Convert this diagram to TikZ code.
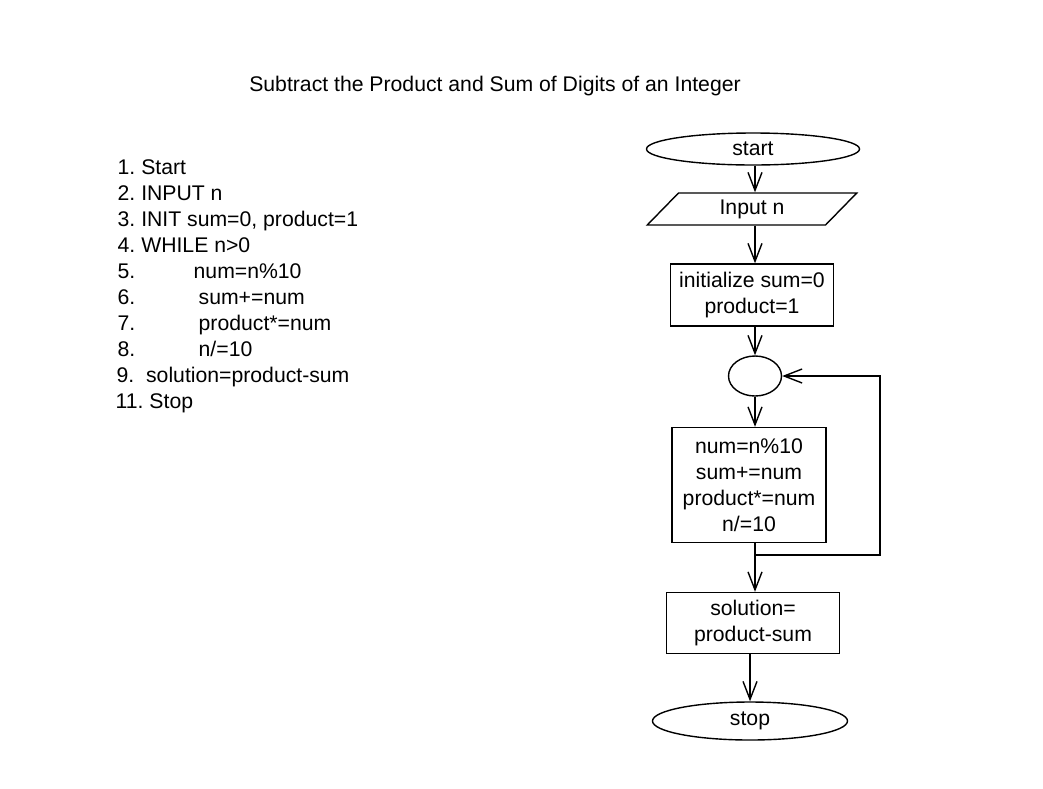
\documentclass[tikz,border=0pt]{standalone}
\usepackage{fontspec}
\setmainfont{Liberation Sans}
\frenchspacing
\usetikzlibrary{shapes.geometric,arrows.meta}
\begin{document}
\begin{tikzpicture}[x=0.5pt,y=-0.5pt,
        every node/.style={font=\fontsize{10.6}{13}\selectfont},
        tsty/.style={ellipse,draw,inner sep=0pt},
        psty/.style={rectangle,draw,align=center,inner sep=0pt},
        isty/.style={trapezium,draw,trapezium left angle=54,
            trapezium right angle=126,trapezium stretches=true,inner sep=0pt},
        lsty/.style={anchor=base west,inner sep=0pt},
        arr/.style={-{Straight Barb[length=9pt,width=7pt]}},
        line width=0.7pt,
    ]
    \useasboundingbox (0,0) rectangle (1043,788);
    \node (title) at (495,86) {Subtract the Product and Sum of Digits of an Integer};
    % algorithm steps
    \node (l1) at (117,174) [lsty] {1. Start};
    \node (l2) at (117,200) [lsty] {2. INPUT n};
    \node (l3) at (117,226) [lsty] {3. INIT sum=0, product=1};
    \node (l4) at (117,252) [lsty] {4. WHILE n>0};
    \node (l5) at (117,278) [lsty] {5.};
    \node (l6) at (117,304) [lsty] {6.};
    \node (l7) at (117,330) [lsty] {7.};
    \node (l8) at (117,356) [lsty] {8.};
    \node (l5t) at (193,278) [lsty] {num=n\%10};
    \node (l6t) at (198,304) [lsty] {sum+=num};
    \node (l7t) at (198,330) [lsty] {product*=num};
    \node (l8t) at (198,356) [lsty] {n/=10};
    \node (l9) at (116,382) [lsty] {9.\ \ solution=product-sum};
    \node (l11) at (115,408) [lsty] {11. Stop};
    % flowchart
    \node (start) at (753,149) [tsty, minimum width=106.5pt, minimum height=16pt] {start};
    \node (input) at (752,209) [isty, minimum width=105pt, minimum height=16pt] {Input n};
    \node (init) at (752,295) [psty, minimum width=81.5pt, minimum height=31pt]
        {initialize sum=0\\product=1};
    \node (loop) at (755,376) [tsty, minimum width=26.5pt, minimum height=20pt] {};
    \node (body) at (749,485) [psty, minimum width=77pt, minimum height=57.5pt]
        {num=n\%10\\sum+=num\\product*=num\\n/=10};
    \node (sol) at (753,623) [psty, minimum width=86.5pt, minimum height=30.5pt]
        {solution=\\product-sum};
    \node (stop) at (750,721) [tsty, minimum width=97.5pt, minimum height=19pt] {stop};
    \coordinate (join) at (755,555);
    \coordinate (back) at (880,376);
    \draw[arr] (start.south -| join) -- (input.north -| join);
    \draw[arr] (input.south -| join) -- (init.north -| join);
    \draw[arr] (init.south -| join) -- (loop);
    \draw[arr] (loop) -- (body.north -| join);
    \draw (body.south -| join) -- (join);
    \draw[arr] (join) -- (sol.north -| join);
    \draw[arr] (join) -| (back) -- (loop);
    \draw[arr] (sol.south -| stop) -- (stop);
\end{tikzpicture}
\end{document}
